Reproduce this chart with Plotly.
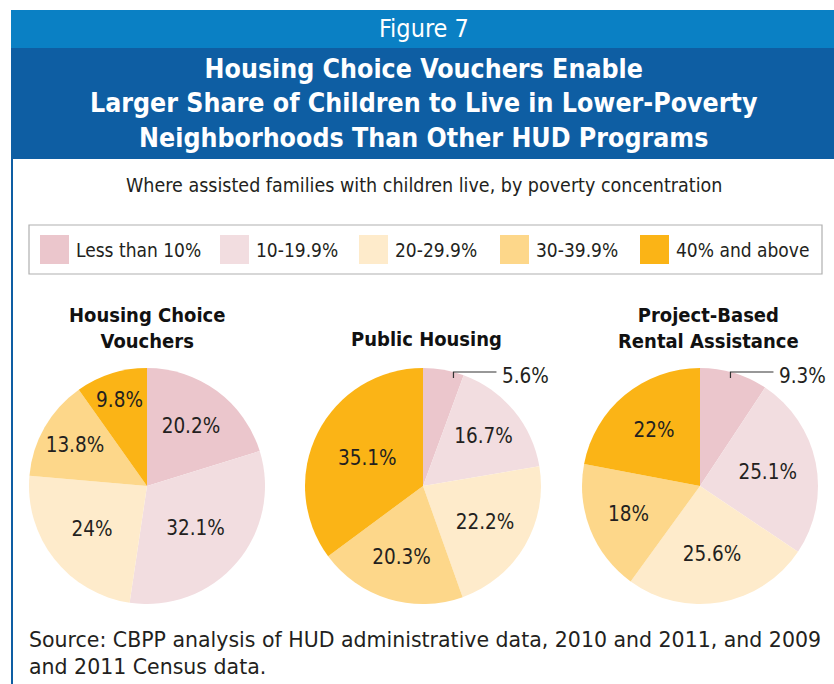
import math
import plotly.graph_objects as go

# ---------------- data ----------------
CATEGORIES = ["Less than 10%", "10-19.9%", "20-29.9%", "30-39.9%", "40% and above"]
PROGRAMS = ["Housing Choice<br>Vouchers", "Public Housing", "Project-Based<br>Rental Assistance"]
HCV = [20.2, 32.1, 24, 13.8, 9.8]
PUBLIC_HOUSING = [5.6, 16.7, 22.2, 20.3, 35.1]
PBRA = [9.3, 25.1, 25.6, 18, 22]
CALLOUT_SLICE = [None, 0, 0]   # slice labelled outside with a leader line

TITLE_FIG = "Figure 7"
TITLE = ("Housing Choice Vouchers Enable<br>Larger Share of Children to Live in Lower-Poverty"
         "<br>Neighborhoods Than Other HUD Programs")
SUBTITLE = "Where assisted families with children live, by poverty concentration"
SOURCE = ("Source: CBPP analysis of HUD administrative data, 2010 and 2011, and 2009"
          "<br>and 2011 Census data.")

# ---------------- style ----------------
W, H = 834, 684
COLORS = ["#EBC6CC", "#F2DDE0", "#FEEBCB", "#FDD78A", "#FBB416"]
LIGHT_BLUE = "#0A80C4"
DARK_BLUE = "#0E5EA3"
NARROW = "DejaVu Sans Condensed, Liberation Sans Narrow, Arial Narrow, sans-serif"
REG = "DejaVu Sans, Verdana, sans-serif"
TXT = "#231F20"

PIE_CX = [147, 423, 700]
PIE_CY = 486
PIE_R = 118
LEADER_DROP = 4          # leader meets the arc this many px below the pie top
LEGEND_SWATCH_X = [40, 220, 359, 500, 640]


def px(x):
    return x / W


def py(y):
    return 1 - y / H


fig = go.Figure()
series = [HCV, PUBLIC_HOUSING, PBRA]
shapes = []
annotations = []

for i, vals in enumerate(series):
    cx = PIE_CX[i]
    texts = []
    positions = []
    for j, v in enumerate(vals):
        if CALLOUT_SLICE[i] == j:
            texts.append("")
            positions.append("none")
        else:
            texts.append(f"{v:g}%")
            positions.append("inside")
    fig.add_trace(go.Pie(
        values=vals,
        labels=CATEGORIES,
        text=texts,
        textinfo="text",
        textposition=positions,
        insidetextorientation="horizontal",
        textfont=dict(family=NARROW, size=20.5, color=TXT),
        marker=dict(colors=COLORS, line=dict(width=0)),
        sort=False,
        direction="clockwise",
        rotation=0,
        hole=0,
        showlegend=False,
        domain=dict(x=[px(cx - PIE_R), px(cx + PIE_R)],
                    y=[py(PIE_CY + PIE_R), py(PIE_CY - PIE_R)]),
        hoverinfo="label+percent",
    ))
    # callout leader line
    k = CALLOUT_SLICE[i]
    if k is not None:
        total = sum(vals)
        start = sum(vals[:k]) / total * 2 * math.pi
        end = (sum(vals[:k]) + vals[k]) / total * 2 * math.pi
        ang = math.acos((PIE_R - LEADER_DROP) / PIE_R)
        ang = min(max(ang, start), end)
        xa = cx + PIE_R * math.sin(ang)
        ya = PIE_CY - PIE_R * math.cos(ang)
        shapes.append(dict(type="path", xref="paper", yref="paper",
                           path=f"M {px(xa)},{py(ya + 6)} L {px(xa)},{py(ya)} L {px(xa + 43)},{py(ya)}",
                           line=dict(color="#333333", width=1.2)))
        annotations.append(dict(x=px(xa + 47), y=py(ya + 4), xref="paper", yref="paper",
                                text=f"{vals[k]:g}%", showarrow=False, xanchor="left", yanchor="middle",
                                font=dict(family=NARROW, size=20.5, color=TXT)))

# frame / header bands
shapes += [
    dict(type="rect", xref="paper", yref="paper", x0=px(11), x1=px(834), y0=py(48), y1=py(10),
         fillcolor=LIGHT_BLUE, line=dict(width=0), layer="below"),
    dict(type="rect", xref="paper", yref="paper", x0=px(11), x1=px(834), y0=py(159), y1=py(48),
         fillcolor=DARK_BLUE, line=dict(width=0), layer="below"),
    dict(type="rect", xref="paper", yref="paper", x0=px(11), x1=px(13), y0=py(684), y1=py(159),
         fillcolor=DARK_BLUE, line=dict(width=0), layer="below"),
    # legend box
    dict(type="rect", xref="paper", yref="paper", x0=px(29), x1=px(822), y0=py(274), y1=py(225),
         fillcolor="rgba(0,0,0,0)", line=dict(color="#B0B0B0", width=1.2), layer="below"),
]

# legend items
for c, lab, sx in zip(COLORS, CATEGORIES, LEGEND_SWATCH_X):
    shapes.append(dict(type="rect", xref="paper", yref="paper", x0=px(sx), x1=px(sx + 29),
                       y0=py(264), y1=py(235), fillcolor=c, line=dict(width=0)))
    annotations.append(dict(x=px(sx + 34), y=py(250), xref="paper", yref="paper", text=lab,
                            showarrow=False, xanchor="left", yanchor="middle",
                            font=dict(family=NARROW, size=19, color=TXT)))

# texts
annotations += [
    dict(x=px(424), y=py(29), text=TITLE_FIG, font=dict(family=NARROW, size=25, color="white")),
    dict(x=px(424), y=py(103), text="<b>" + TITLE + "</b>",
         font=dict(family=NARROW, size=26.5, color="white"), align="center"),
    dict(x=px(424), y=py(186), text=SUBTITLE, font=dict(family=NARROW, size=19.5, color=TXT)),
    dict(x=px(27), y=py(653), text=SOURCE, xanchor="left", align="left",
         font=dict(family=REG, size=20.5, color=TXT)),
    dict(x=px(147), y=py(328), text="<b>" + PROGRAMS[0] + "</b>", align="center",
         font=dict(family=NARROW, size=20, color="#111111")),
    dict(x=px(426), y=py(339), text="<b>" + PROGRAMS[1] + "</b>", align="center",
         font=dict(family=NARROW, size=20, color="#111111")),
    dict(x=px(708), y=py(328), text="<b>" + PROGRAMS[2] + "</b>", align="center",
         font=dict(family=NARROW, size=20, color="#111111")),
]
for a in annotations:
    a.setdefault("xref", "paper")
    a.setdefault("yref", "paper")
    a.setdefault("showarrow", False)
    a.setdefault("xanchor", "center")
    a.setdefault("yanchor", "middle")

fig.update_layout(
    width=W, height=H,
    margin=dict(l=0, r=0, t=0, b=0),
    paper_bgcolor="white",
    plot_bgcolor="white",
    shapes=shapes,
    annotations=annotations,
    showlegend=False,
)

fig.write_html("out.html",
               config={"displayModeBar": False},
               post_script="document.body.style.margin='0';document.body.style.overflow='hidden';")
